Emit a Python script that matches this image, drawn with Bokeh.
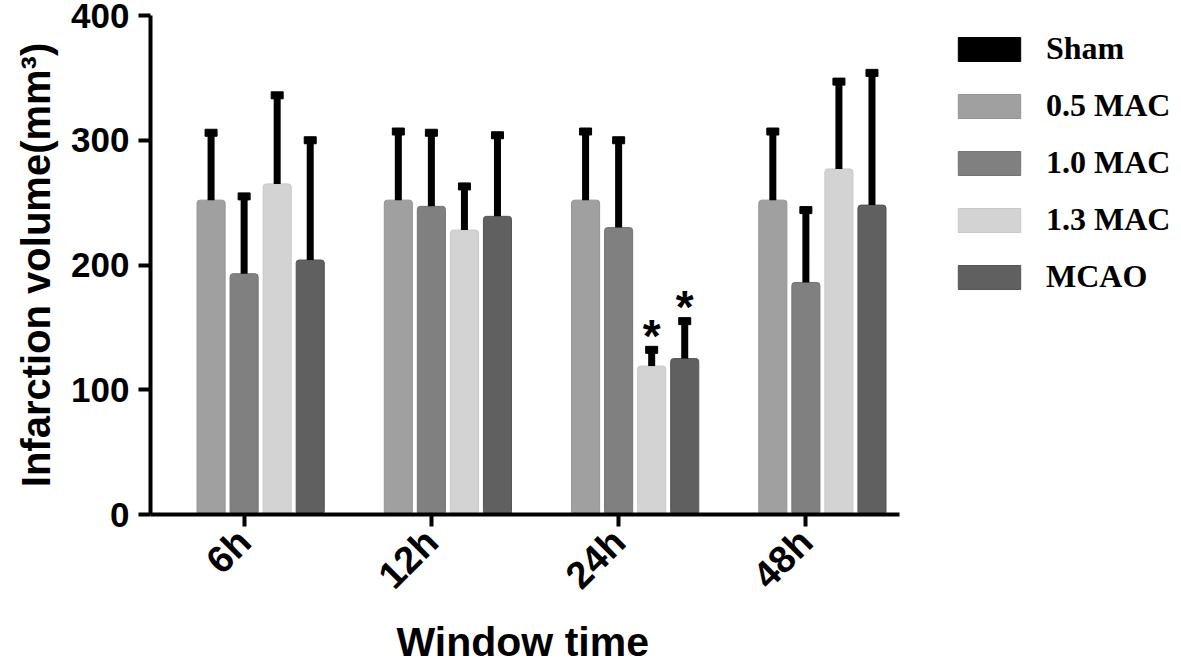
from math import pi
from bokeh.plotting import figure
from bokeh.models import ColumnDataSource, Range1d, FixedTicker, Legend, LegendItem, Title
from bokeh.core.properties import value
from bokeh.embed import file_html
from bokeh.resources import INLINE

groups = ["6h", "12h", "24h", "48h"]
series = ["Sham", "0.5 MAC", "1.0 MAC", "1.3 MAC", "MCAO"]
colors = ["#000000", "#a0a0a0", "#808080", "#d3d3d3", "#606060"]
edges = ["#000000", "#949494", "#747474", "#c8c8c8", "#555555"]

sham = [0, 0, 0, 0]
mac05 = [252, 252, 252, 252]
mac10 = [193, 247, 230, 186]
mac13 = [265, 228, 119, 277]
mcao = [204, 239, 125, 248]

sham_err = [0, 0, 0, 0]
mac05_err = [54, 55, 55, 55]
mac10_err = [62, 59, 70, 58]
mac13_err = [71, 35, 13, 70]
mcao_err = [96, 65, 30, 106]

sham_sig = [False, False, False, False]
mac05_sig = [False, False, False, False]
mac10_sig = [False, False, False, False]
mac13_sig = [False, False, True, False]
mcao_sig = [False, False, True, False]

means = [sham, mac05, mac10, mac13, mcao]
errs = [sham_err, mac05_err, mac10_err, mac13_err, mcao_err]
sigs = [sham_sig, mac05_sig, mac10_sig, mac13_sig, mcao_sig]
offsets = [-0.353, -0.1765, 0.0, 0.1765, 0.353]
bar_w = 0.15

y_ticks = [0, 100, 200, 300, 400]
x_title = "Window time"
y_title = "Infarction volume(mm³)"

FONT = "Liberation Sans"
SERIF = "Liberation Serif"

centers = [i + 0.5 for i in range(len(groups))]

p = figure(width=1181, height=666, x_range=Range1d(0, 5.506),
           y_range=Range1d(0, 400), output_backend="svg", toolbar_location=None,
           min_border_left=150, min_border_right=0, min_border_top=15, min_border_bottom=152)

items = []
for name, m, e, sg, c, ec, off in zip(series, means, errs, sigs, colors, edges, offsets):
    xs = [cx + off for cx in centers]
    src = ColumnDataSource(dict(x=xs, top=m, hi=[a + b for a, b in zip(m, e)]))
    r = p.vbar(x="x", top="top", bottom=0, width=bar_w,
               fill_color=c, line_color=ec, line_width=1, source=src, border_radius=3)
    items.append(LegendItem(label=name, renderers=[r]))
    if name != "Sham":
        p.segment(x0="x", y0="top", x1="x", y1="hi",
                  line_color="black", line_width=7, source=src)
        p.rect(x="x", y="hi", width=12, height=7,
               width_units="screen", height_units="screen",
               fill_color="black", line_color="black", source=src)
    sx = [x for x, s in zip(xs, sg) if s]
    sy = [h for h, s in zip(src.data["hi"], sg) if s]
    if sx:
        ssrc = ColumnDataSource(dict(x=sx, y=sy, t=["*"] * len(sx)))
        p.text(x="x", y="y", text="t", source=ssrc,
               text_font=value(FONT), text_font_style="bold", text_font_size="46px",
               text_align="center", text_baseline="alphabetic", y_offset=-14,
               text_color="black")

legend = Legend(items=items, location=(800, 219), orientation="vertical",
                glyph_width=78, glyph_height=30, label_standoff=18, spacing=20,
                label_height=34, padding=0, margin=0, border_line_color=None,
                background_fill_alpha=0,
                label_text_font=SERIF, label_text_font_style="bold",
                label_text_font_size="32px", label_text_color="black")
p.add_layout(legend, "center")

p.xgrid.visible = False
p.ygrid.visible = False
p.outline_line_color = None

for ax in (p.xaxis[0], p.yaxis[0]):
    ax.axis_line_width = 4
    ax.axis_line_color = "black"
    ax.major_tick_line_width = 4
    ax.major_tick_line_color = "black"
    ax.major_tick_out = 12
    ax.major_tick_in = 0
    ax.minor_tick_line_color = None
    ax.major_label_text_font = FONT
    ax.major_label_text_font_style = "bold"
    ax.major_label_text_color = "black"
    ax.axis_label_text_font = FONT
    ax.axis_label_text_font_style = "bold"
    ax.axis_label_text_color = "black"

p.yaxis.ticker = FixedTicker(ticks=y_ticks)
p.yaxis.major_label_text_font_size = "35px"
p.yaxis.axis_label = y_title
p.yaxis.axis_label_text_font_size = "40px"
p.yaxis.axis_label_standoff = 10
p.yaxis.major_label_standoff = 9

p.xaxis.ticker = FixedTicker(ticks=centers)
p.xaxis.major_label_overrides = {cx: g for cx, g in zip(centers, groups)}
p.xaxis.bounds = (0, len(groups))
p.xaxis.major_label_orientation = pi / 4
p.xaxis.major_label_text_font_size = "38px"
p.xaxis.major_label_standoff = 9

p.add_layout(Title(text=x_title, align="left", offset=246, standoff=4,
                   text_font=FONT, text_font_style="bold", text_font_size="41px",
                   text_color="black"), "below")

open("out.html", "w").write(file_html(p, INLINE))
